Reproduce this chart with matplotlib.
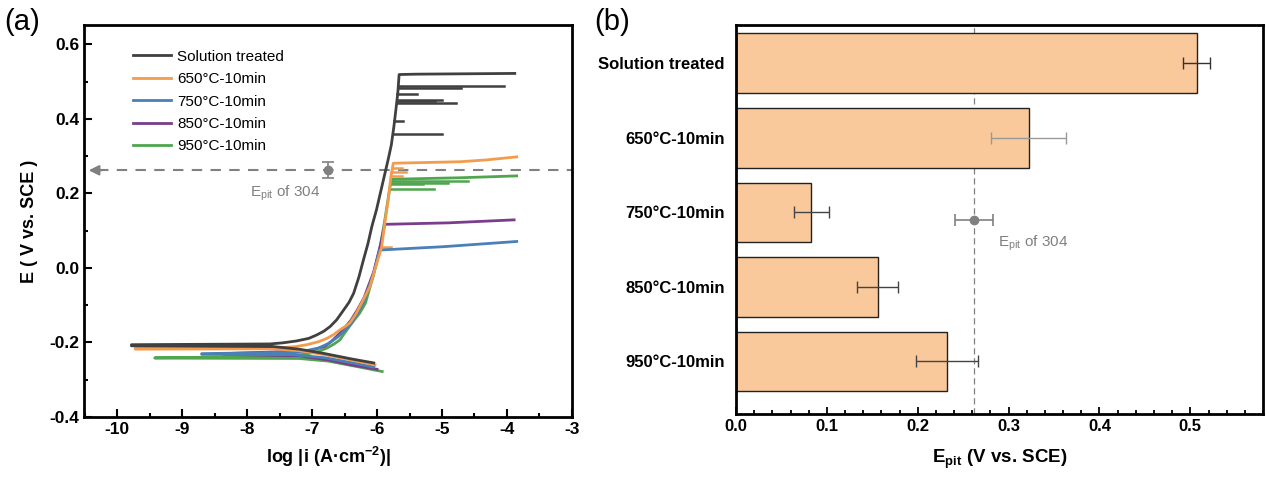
import numpy as np
import matplotlib
matplotlib.use("Agg")
import matplotlib.pyplot as plt
from matplotlib.ticker import MultipleLocator

plt.rcParams["font.family"] = ["Liberation Sans", "DejaVu Sans"]
plt.rcParams["mathtext.default"] = "regular"
plt.rcParams["axes.unicode_minus"] = False

# ---- panel (a): polarization curves (log i, E) ----
labels = ["Solution treated", "650\u00b0C-10min", "750\u00b0C-10min",
          "850\u00b0C-10min", "950\u00b0C-10min"]
colors = ["#404040", "#F39C4D", "#4A80B8", "#7A3D8C", "#4FA64F"]

st_logi = [-6.05, -6.4, -6.83, -7.2, -7.6, -9.78, -9.78, -7.65, -7.45, -7.24, -7.05,
           -6.93, -6.82, -6.72, -6.62, -6.51, -6.43, -6.36, -6.28, -6.21, -6.14,
           -6.08, -6.01, -5.95, -5.89, -5.83, -5.78, -5.74, -5.71, -5.68, -5.66,
           -5.4, -3.88]
st_E = [-0.255, -0.244, -0.229, -0.218, -0.211, -0.209, -0.206, -0.204, -0.201, -0.196,
        -0.189, -0.180, -0.170, -0.157, -0.139, -0.112, -0.092, -0.068, -0.025, 0.021,
        0.065, 0.111, 0.155, 0.200, 0.245, 0.290, 0.330, 0.380, 0.424, 0.470, 0.519,
        0.520, 0.522]

t650_logi = [-6.03, -6.4, -6.8, -7.2, -7.6, -9.72, -9.72, -7.54, -7.25, -7.08, -6.90,
             -6.77, -6.66, -6.57, -6.49, -6.42, -6.33, -6.24, -6.11, -6.0, -5.93,
             -5.88, -5.83, -5.79, -5.75, -4.72, -4.31, -3.85]
t650_E = [-0.260, -0.247, -0.233, -0.222, -0.217, -0.218, -0.215, -0.215, -0.211,
          -0.206, -0.198, -0.189, -0.178, -0.166, -0.157, -0.148, -0.125, -0.095,
          -0.050, 0.015, 0.055, 0.120, 0.180, 0.240, 0.281, 0.285, 0.290, 0.298]

t750_logi = [-6.05, -6.4, -6.8, -7.3, -8.70, -8.70, -7.2, -6.9, -6.75, -6.6, -6.5,
             -6.4, -6.3, -6.2, -6.06, -5.96, -4.98, -3.85]
t750_E = [-0.266, -0.254, -0.241, -0.233, -0.232, -0.230, -0.226, -0.215, -0.203,
          -0.185, -0.168, -0.150, -0.122, -0.090, -0.020, 0.048, 0.057, 0.071]

t850_logi = [-6.0, -6.4, -6.75, -7.2, -8.36, -8.36, -7.03, -6.8, -6.7, -6.6, -6.5,
             -6.4, -6.3, -6.2, -6.05, -5.95, -5.88, -4.9, -3.89]
t850_E = [-0.272, -0.260, -0.247, -0.236, -0.232, -0.230, -0.222, -0.210, -0.197,
          -0.180, -0.161, -0.140, -0.112, -0.080, -0.010, 0.060, 0.117, 0.121, 0.129]

t950_logi = [-5.92, -6.3, -6.75, -7.2, -9.42, -9.42, -7.54, -7.08, -6.90, -6.77,
             -6.66, -6.57, -6.52, -6.45, -6.37, -6.27, -6.18, -6.06, -5.95, -5.88,
             -5.80, -5.77, -4.72, -3.85]
t950_E = [-0.278, -0.265, -0.250, -0.243, -0.242, -0.241, -0.239, -0.231, -0.224,
          -0.215, -0.204, -0.193, -0.180, -0.163, -0.144, -0.122, -0.095, -0.023,
          0.057, 0.129, 0.218, 0.238, 0.242, 0.247]

curves_logi = [st_logi, t650_logi, t750_logi, t850_logi, t950_logi]
curves_E = [st_E, t650_E, t750_E, t850_E, t950_E]

# metastable pitting transients: (series index, E, log i start, log i end)
spike_series = [0, 0, 0, 0, 0, 0, 0, 0, 1, 1, 1, 1, 4, 4, 4, 4]
spike_E = [0.488, 0.482, 0.468, 0.452, 0.447, 0.443, 0.394, 0.359,
           0.268, 0.258, 0.248, 0.055, 0.232, 0.228, 0.224, 0.211]
spike_start = [-5.68, -5.68, -5.69, -5.70, -5.70, -5.70, -5.74, -5.76,
               -5.77, -5.78, -5.79, -5.93, -5.78, -5.79, -5.79, -5.82]
spike_end = [-4.05, -4.70, -5.38, -5.00, -5.10, -4.78, -5.60, -5.00,
             -5.62, -5.55, -5.62, -5.78, -4.60, -4.90, -5.30, -5.12]

ref_logi = -6.75
ref_Epit = 0.262
ref_err = 0.021

# ---- panel (b): pitting potentials ----
groups = labels
epit = [0.507, 0.322, 0.083, 0.156, 0.232]
epit_err = [0.015, 0.041, 0.019, 0.0225, 0.034]
err_colors = ["#333333", "#999999", "#444444", "#444444", "#444444"]

grey = "#808080"

fig = plt.figure(figsize=(12.69, 4.86), dpi=100)
ax1 = fig.add_axes([0.0662, 0.142, 0.3845, 0.8066])
ax2 = fig.add_axes([0.580, 0.148, 0.4153, 0.8006])

# ---------- (a) ----------
for i in range(5):
    ax1.plot(curves_logi[i], curves_E[i], color=colors[i], lw=2.0,
             label=labels[i], zorder=3 + (4 - i) * 0.1, solid_joinstyle="round")
for s, e, x0, x1 in zip(spike_series, spike_E, spike_start, spike_end):
    ax1.plot([x0, x1], [e, e], color=colors[s], lw=1.8, zorder=3)

ax1.plot([-10.3, -3.0], [ref_Epit, ref_Epit], ls=(0, (5, 4)), color=grey, lw=1.5, zorder=2)
ax1.annotate("", xy=(-10.48, ref_Epit), xytext=(-10.2, ref_Epit),
             arrowprops=dict(arrowstyle="-|>", color=grey, lw=1.5, mutation_scale=15))
ax1.errorbar([ref_logi], [ref_Epit], yerr=[ref_err], fmt="o", color=grey,
             ms=6, capsize=4, elinewidth=1.2, capthick=1.2, zorder=4)
ax1.text(-7.95, 0.200, "E$_{pit}$ of 304", color=grey, fontsize=11, va="center")

ax1.set_xlim(-10.51, -3.0)
ax1.set_ylim(-0.4, 0.652)
ax1.xaxis.set_major_locator(MultipleLocator(1))
ax1.xaxis.set_minor_locator(MultipleLocator(0.5))
ax1.yaxis.set_major_locator(MultipleLocator(0.2))
ax1.yaxis.set_minor_locator(MultipleLocator(0.1))
ax1.tick_params(which="both", direction="in", top=False, right=False, width=1.5)
ax1.tick_params(which="major", length=6, labelsize=12.5)
ax1.tick_params(which="minor", length=3)
for lab in ax1.get_xticklabels() + ax1.get_yticklabels():
    lab.set_fontweight("bold")
ax1.set_xlabel("log |i (A\u00b7cm$^{-2}$)|", fontsize=13, fontweight="bold", labelpad=6)
ax1.set_ylabel("E ( V vs. SCE )", fontsize=13, fontweight="bold", labelpad=8)
for sp in ax1.spines.values():
    sp.set_linewidth(2)
ax1.legend(loc="upper left", bbox_to_anchor=(0.072, 0.972), frameon=False, fontsize=11,
           handlelength=2.5, handletextpad=0.4, labelspacing=0.55)

# ---------- (b) ----------
ypos = np.arange(len(groups))
ax2.barh(ypos, epit, height=0.8, color="#F9C89B", edgecolor="#222222", lw=1.0, zorder=2)
for k in range(len(groups)):
    ax2.errorbar([epit[k]], [ypos[k]], xerr=[epit_err[k]], fmt="none",
                 ecolor=err_colors[k], elinewidth=1.0, capsize=4, capthick=1.0, zorder=3)
ax2.axvline(ref_Epit, color=grey, ls=(0, (5, 3)), lw=0.9, zorder=1)
ax2.errorbar([ref_Epit], [2.1], xerr=[ref_err], fmt="o", color=grey, ms=6,
             capsize=4, elinewidth=1.2, capthick=1.2, zorder=4)
ax2.text(0.288, 2.42, "E$_{pit}$ of 304", color=grey, fontsize=11, va="center")

ax2.set_xlim(0, 0.58)
ax2.set_ylim(4.706, -0.514)
ax2.set_yticks(ypos)
ax2.set_yticklabels(groups, fontsize=12, fontweight="bold")
ax2.tick_params(axis="y", length=0, pad=8)
ax2.xaxis.set_major_locator(MultipleLocator(0.1))
ax2.xaxis.set_minor_locator(MultipleLocator(0.02))
ax2.tick_params(axis="x", which="both", direction="in", width=1.3, labelsize=12)
ax2.tick_params(axis="x", which="major", length=5)
ax2.tick_params(axis="x", which="minor", length=3)
for lab in ax2.get_xticklabels():
    lab.set_fontweight("bold")
ax2.set_xlabel("E$_{pit}$ (V vs. SCE)", fontsize=13.5, fontweight="bold", labelpad=10)
for sp in ax2.spines.values():
    sp.set_linewidth(2)

fig.text(0.003, 0.955, "(a)", fontsize=21, va="center")
fig.text(0.468, 0.955, "(b)", fontsize=21, va="center")

fig.savefig("out.png", dpi=100)
